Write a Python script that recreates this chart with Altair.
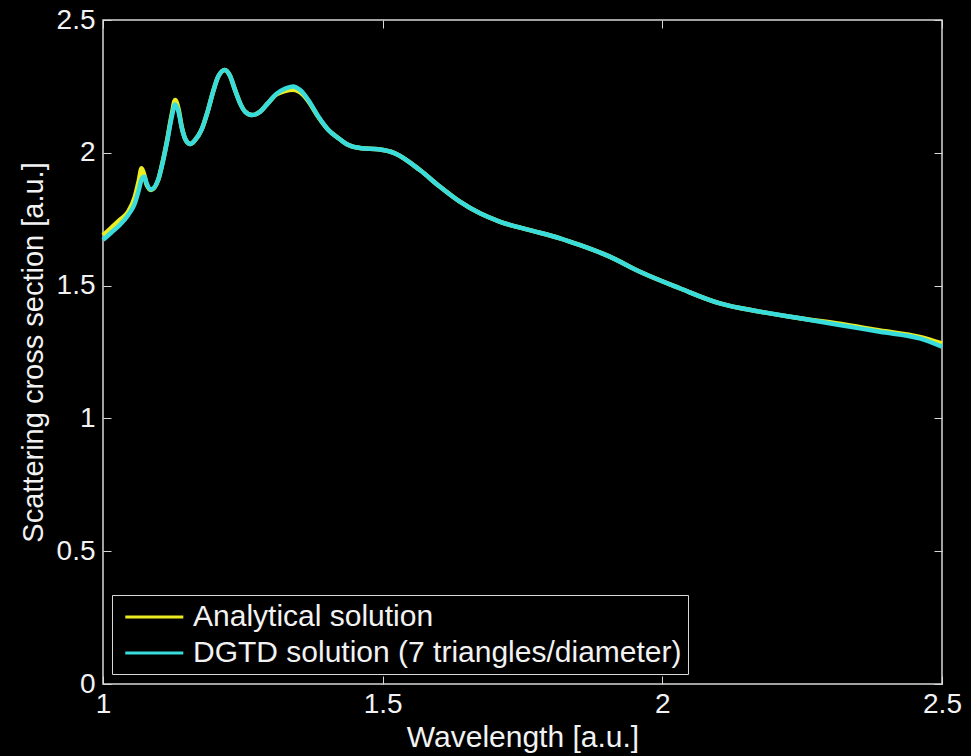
import altair as alt
import pandas as pd

# ---- data ----
wavelength = [1.000, 1.015, 1.030, 1.045, 1.057, 1.064, 1.069, 1.074, 1.078, 1.086,
              1.099, 1.105, 1.114, 1.123, 1.129, 1.135, 1.141, 1.148, 1.156, 1.164,
              1.176, 1.188, 1.197, 1.206, 1.218, 1.227, 1.236, 1.245, 1.254, 1.266,
              1.281, 1.295, 1.310, 1.325, 1.340, 1.352, 1.367, 1.385, 1.403, 1.421,
              1.438, 1.462, 1.492, 1.522, 1.566, 1.602, 1.638, 1.674, 1.709, 1.763,
              1.817, 1.852, 1.906, 1.960, 2.031, 2.103, 2.174, 2.246, 2.317, 2.389,
              2.460, 2.500]

dgtd = [1.672, 1.700, 1.728, 1.766, 1.810, 1.860, 1.900, 1.910, 1.885, 1.862,
        1.900, 1.948, 2.036, 2.137, 2.182, 2.155, 2.093, 2.048, 2.033, 2.046,
        2.086, 2.162, 2.231, 2.287, 2.312, 2.290, 2.237, 2.187, 2.155, 2.142,
        2.155, 2.187, 2.222, 2.241, 2.250, 2.237, 2.199, 2.137, 2.086, 2.055,
        2.030, 2.017, 2.013, 1.998, 1.936, 1.873, 1.816, 1.772, 1.741, 1.709,
        1.678, 1.653, 1.609, 1.552, 1.490, 1.433, 1.402, 1.377, 1.352, 1.326,
        1.301, 1.270]

analytical = [1.690, 1.718, 1.747, 1.778, 1.835, 1.895, 1.942, 1.915, 1.880, 1.860,
              1.900, 1.950, 2.040, 2.145, 2.199, 2.165, 2.095, 2.048, 2.033, 2.046,
              2.086, 2.162, 2.231, 2.287, 2.312, 2.290, 2.237, 2.187, 2.155, 2.142,
              2.155, 2.187, 2.220, 2.232, 2.237, 2.228, 2.195, 2.135, 2.086, 2.055,
              2.030, 2.017, 2.013, 1.998, 1.936, 1.873, 1.816, 1.772, 1.741, 1.709,
              1.678, 1.653, 1.609, 1.552, 1.490, 1.433, 1.402, 1.377, 1.356, 1.331,
              1.307, 1.282]

series_names = ["Analytical solution", "DGTD solution (7 triangles/diameter)"]
series_colors = ["#ecec22", "#38dcdc"]
x_ticks = [1, 1.5, 2, 2.5]
y_ticks = [0, 0.5, 1, 1.5, 2, 2.5]

n = len(wavelength)
df = pd.DataFrame({
    "wl": wavelength + wavelength,
    "val": analytical + dgtd,
    "series": [series_names[0]] * n + [series_names[1]] * n,
})

FONT = "Liberation Sans"
AX = "#d8d8d8"
TXT = "#f2f2f2"
TICK = 8

x_scale = alt.Scale(domain=[1, 2.5], nice=False, zero=False)
y_scale = alt.Scale(domain=[0, 2.5], nice=False, zero=False)

common_axis = dict(grid=False, domain=False, tickColor=AX, tickSize=TICK,
                   offset=-TICK, tickWidth=1, labelColor=TXT, titleColor=TXT,
                   labelFont=FONT, titleFont=FONT, labelFontSize=28,
                   titleFontWeight="normal", format="~g",
                   labelFlush=False, labelOverlap=False)

lines = alt.Chart(df).mark_line(strokeWidth=4.5, interpolate="monotone").encode(
    x=alt.X("wl:Q", scale=x_scale,
            axis=alt.Axis(orient="bottom", values=x_ticks, title="Wavelength [a.u.]",
                          titleFontSize=30, labelPadding=6, titlePadding=4,
                          **common_axis)),
    y=alt.Y("val:Q", scale=y_scale,
            axis=alt.Axis(orient="left", values=y_ticks,
                          title="Scattering cross section [a.u.]",
                          titleFontSize=29, labelPadding=8, titlePadding=8,
                          **common_axis)),
    color=alt.Color("series:N",
                    scale=alt.Scale(domain=series_names, range=series_colors),
                    legend=alt.Legend(title=None, orient="none", legendX=9, legendY=575,
                                      strokeColor=AX, fillColor="black", padding=6,
                                      labelFont=FONT, labelFontSize=30, labelColor=TXT,
                                      symbolType="M-0.6,0H3.4", symbolSize=841,
                                      symbolStrokeWidth=3, labelOffset=43,
                                      rowPadding=5, labelLimit=800)),
)

frame_axis = dict(grid=False, domain=False, tickColor=AX, tickSize=TICK,
                  offset=-TICK, tickWidth=1, labels=False, title=None)

ticks_layer = alt.Chart(df).mark_line(opacity=0).encode(
    x=alt.X("wl:Q", scale=x_scale,
            axis=alt.Axis(orient="top", values=x_ticks, **frame_axis)),
    y=alt.Y("val:Q", scale=y_scale,
            axis=alt.Axis(orient="right", values=y_ticks, **frame_axis)),
)

chart = alt.layer(lines, ticks_layer).resolve_axis(
    x="independent", y="independent"
).properties(
    width=839, height=664,
    autosize=alt.AutoSizeParams(type="none"),
    padding={"left": 103, "top": 20, "right": 29, "bottom": 72},
    background="black",
).configure_view(stroke=AX, strokeWidth=1.5)

chart.save("out.html", embed_options={"renderer": "svg", "actions": False})
